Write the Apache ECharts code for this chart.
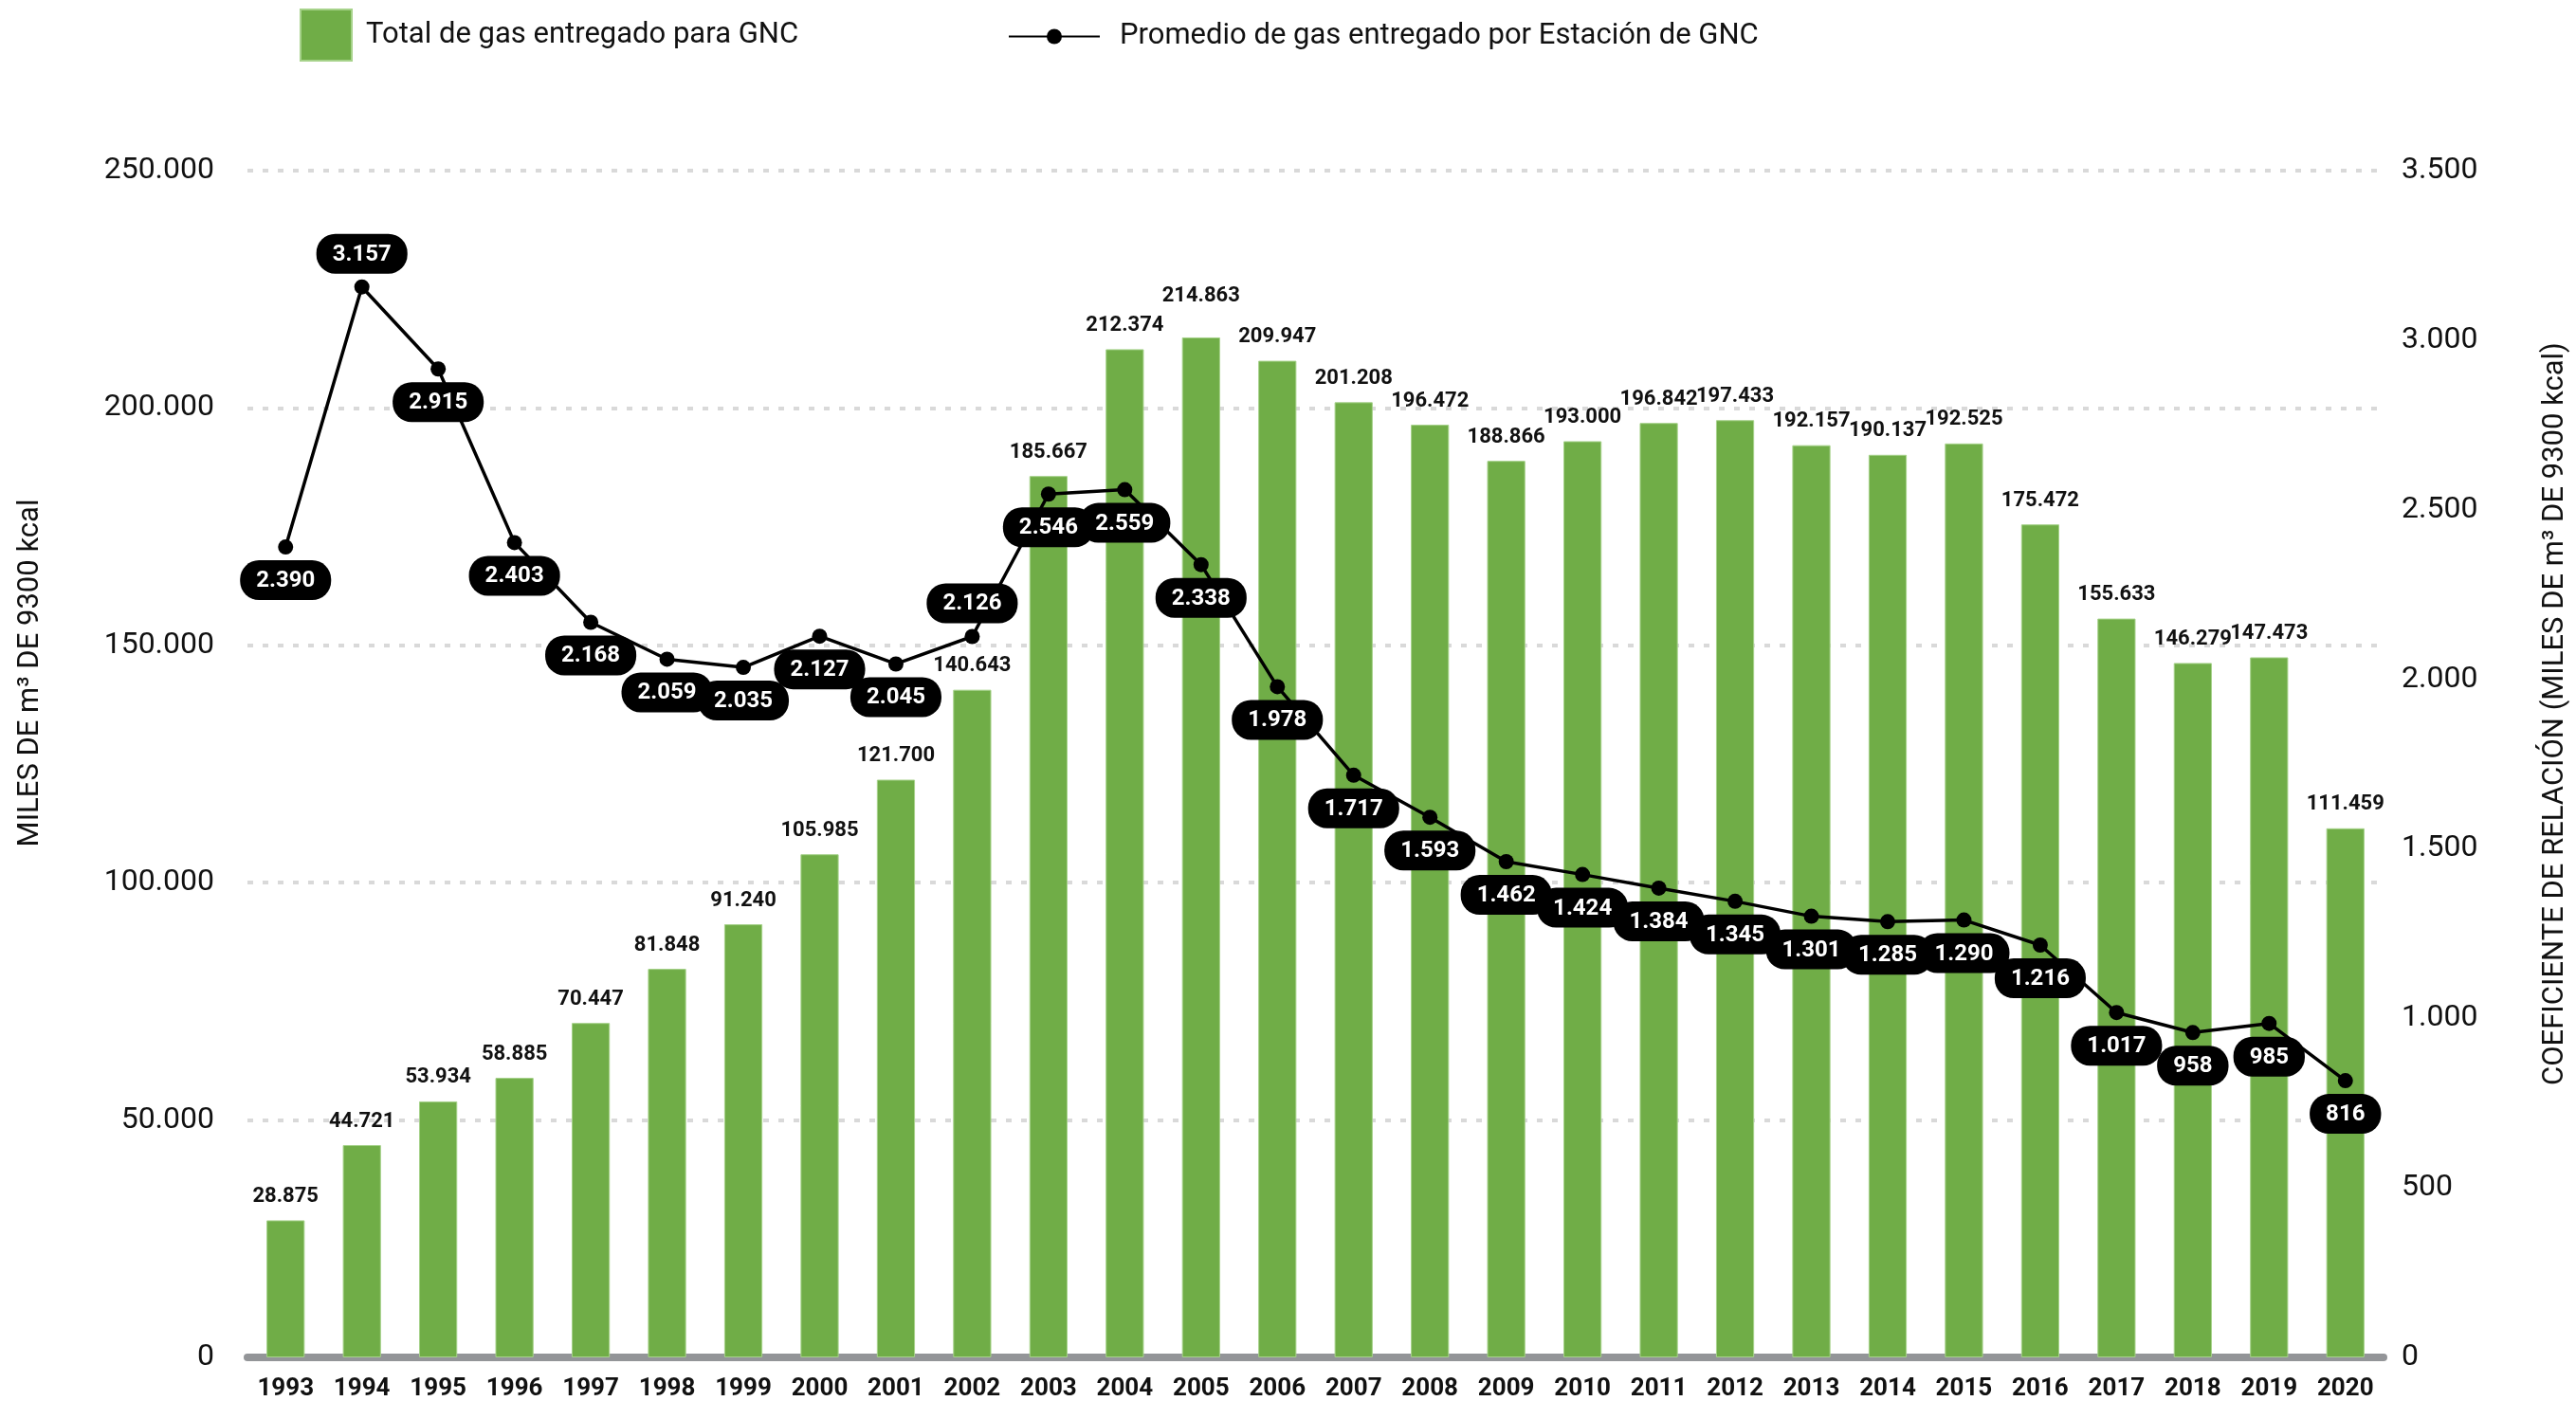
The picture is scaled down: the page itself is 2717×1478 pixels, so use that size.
<!DOCTYPE html>
<html>
<head>
<meta charset="utf-8">
<script src="https://cdn.jsdelivr.net/npm/echarts@6/dist/echarts.min.js"></script>
<style>
  html, body { margin: 0; padding: 0; background: #fff; }
  #chart { width: 2717px; height: 1478px; }
</style>
</head>
<body>
<div id="chart"></div>
<script>
// datos
var years = ['1993','1994','1995','1996','1997','1998','1999','2000','2001','2002',
             '2003','2004','2005','2006','2007','2008','2009','2010','2011','2012',
             '2013','2014','2015','2016','2017','2018','2019','2020'];
var totalGas = [28875, 44721, 53934, 58885, 70447, 81848, 91240, 105985, 121700, 140643,
                185667, 212374, 214863, 209947, 201208, 196472, 188866, 193000, 196842, 197433,
                192157, 190137, 192525, 175472, 155633, 146279, 147473, 111459];
var promedio = [2390, 3157, 2915, 2403, 2168, 2059, 2035, 2127, 2045, 2126,
                2546, 2559, 2338, 1978, 1717, 1593, 1462, 1424, 1384, 1345,
                1301, 1285, 1290, 1216, 1017, 958, 985, 816];
var labelsAbove = ['1994', '2002'];

var FONT = 'Roboto, "Noto Sans", sans-serif';
var barName = 'Total de gas entregado para GNC';
var lineName = 'Promedio de gas entregado por Estación de GNC';

function fmt(v) {
    return String(v).replace(/\B(?=(\d{3})+(?!\d))/g, '.');
}

var myChart = echarts.init(document.getElementById('chart'));

var lineData = promedio.map(function (v, i) {
    var item = { value: v };
    if (labelsAbove.indexOf(years[i]) >= 0) {
        item.label = { position: 'top' };
    }
    return item;
});

var barData = totalGas.map(function (v, i) {
    var item = { value: v };
    if (years[i] === '2005') {
        item.label = { distance: 32 };
    }
    return item;
});

option = {
    animation: false,
    textStyle: { fontFamily: FONT },
    legend: [
        {
            data: [{ name: barName, icon: 'rect' }],
            left: 311,
            top: 4,
            itemWidth: 54,
            itemHeight: 54,
            textStyle: { fontFamily: FONT, fontSize: 31, color: '#111', padding: [0, 0, 0, 10] }
        },
        {
            data: [lineName],
            left: 1058,
            top: 18,
            itemWidth: 96,
            itemHeight: 20,
            textStyle: { fontFamily: FONT, fontSize: 31, color: '#111', padding: [0, 0, 0, 16] }
        }
    ],
    grid: { left: 261, right: 203, top: 180, bottom: 46, containLabel: false },
    xAxis: [
        {
            type: 'category',
            data: years,
            offset: 4,
            axisLine: { lineStyle: { color: '#939598', width: 8 } },
            axisTick: { show: false },
            axisLabel: {
                margin: 16,
                fontFamily: FONT,
                fontSize: 26,
                fontWeight: 'bold',
                color: '#111'
            }
        }
    ],
    yAxis: [
        {
            type: 'value',
            min: 0,
            max: 250000,
            interval: 50000,
            axisLine: { show: false },
            axisTick: { show: false },
            splitLine: { lineStyle: { color: '#d9d9d9', width: 4, type: [6, 10] } },
            axisLabel: {
                formatter: fmt,
                margin: 35,
                fontFamily: FONT,
                fontSize: 32,
                color: '#111'
            }
        },
        {
            type: 'value',
            min: 0,
            max: 3500,
            interval: 500,
            axisLine: { show: false },
            axisTick: { show: false },
            splitLine: { show: false },
            axisLabel: {
                formatter: fmt,
                margin: 19,
                fontFamily: FONT,
                fontSize: 32,
                color: '#111'
            }
        }
    ],
    graphic: [
        {
            type: 'text',
            rotation: Math.PI / 2,
            x: 32,
            y: 710,
            style: {
                text: 'MILES DE m³ DE 9300 kcal',
                fontFamily: FONT,
                fontSize: 31,
                fill: '#111',
                textAlign: 'center',
                textVerticalAlign: 'middle'
            }
        },
        {
            type: 'text',
            rotation: Math.PI / 2,
            x: 2695,
            y: 753,
            style: {
                text: 'COEFICIENTE DE RELACIÓN (MILES DE m³ DE 9300 kcal)',
                fontFamily: FONT,
                fontSize: 31,
                fill: '#111',
                textAlign: 'center',
                textVerticalAlign: 'middle'
            }
        }
    ],
    series: [
        {
            name: barName,
            type: 'bar',
            data: barData,
            barWidth: '50%',
            itemStyle: { color: '#70ad47', borderColor: '#a6d28a', borderWidth: 1 },
            label: {
                show: true,
                position: 'top',
                distance: 14,
                formatter: function (p) { return fmt(p.value); },
                fontFamily: FONT,
                fontSize: 22,
                fontWeight: 'bold',
                color: '#111'
            },
            z: 2
        },
        {
            name: lineName,
            type: 'line',
            yAxisIndex: 1,
            data: lineData,
            symbol: 'circle',
            symbolSize: 16,
            itemStyle: { color: '#000' },
            lineStyle: { color: '#000', width: 3.5 },
            label: {
                show: true,
                position: 'bottom',
                distance: 6,
                formatter: function (p) { return fmt(p.value); },
                fontFamily: FONT,
                fontSize: 24,
                fontWeight: 'bold',
                color: '#fff',
                backgroundColor: '#000',
                borderRadius: 20,
                padding: [10, 17, 8, 17]
            },
            z: 5
        }
    ]
};

myChart.setOption(option, true);
</script>
</body>
</html>
